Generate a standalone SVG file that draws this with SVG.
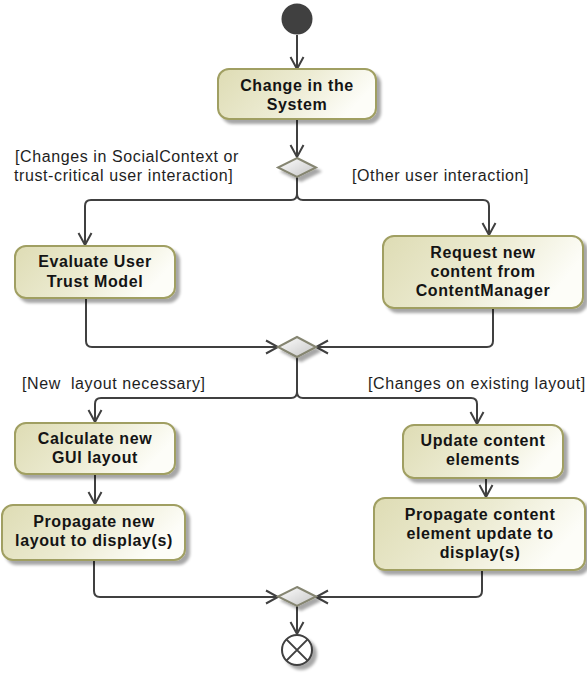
<svg xmlns="http://www.w3.org/2000/svg" width="587" height="673" viewBox="0 0 587 673">
  <style>
    .action { stroke: #a09f62; stroke-width: 2; fill: url(#actionFill); filter: url(#shadow); }
    .decision { stroke: #858571; stroke-width: 2; fill: url(#decisionFill); filter: url(#shadow); }
    .label { font-family: "Liberation Sans", Arial, sans-serif; font-size: 16px; font-weight: bold; letter-spacing: 0.6px; fill: #141414; text-anchor: middle; }
    .guard { font-family: "Liberation Sans", Arial, sans-serif; font-size: 16px; letter-spacing: 0.6px; fill: #1e1e1e; white-space: pre; }
    .flow { fill: none; stroke: #404040; stroke-width: 2; }
    .arrow { fill: none; stroke: #404040; stroke-width: 2; marker-end: url(#open); }
  </style>
  <defs>
    <linearGradient id="actionFill" x1="0" y1="0" x2="1" y2="0.3">
      <stop offset="0" stop-color="#dedcb4"/>
      <stop offset="0.55" stop-color="#ecebd2"/>
      <stop offset="1" stop-color="#fdfdf8"/>
    </linearGradient>
    <linearGradient id="decisionFill" x1="0" y1="0" x2="1" y2="1">
      <stop offset="0" stop-color="#ffffff"/>
      <stop offset="1" stop-color="#c4c4c4"/>
    </linearGradient>
    <filter id="shadow" x="-20%" y="-20%" width="150%" height="160%">
      <feGaussianBlur in="SourceAlpha" stdDeviation="1.5"/>
      <feOffset dx="4" dy="4" result="off"/>
      <feComponentTransfer><feFuncA type="linear" slope="0.35"/></feComponentTransfer>
      <feMerge><feMergeNode/><feMergeNode in="SourceGraphic"/></feMerge>
    </filter>
    <marker id="open" markerWidth="16" markerHeight="16" viewBox="-14 -8 16 16" refX="0" refY="0" orient="auto" markerUnits="userSpaceOnUse">
      <path d="M-12,-6.5 L0,0 L-12,6.5" fill="none" stroke="#404040" stroke-width="2"/>
    </marker>
  </defs>

  <!-- control flows -->
  <g id="connectors">
    <path class="arrow" d="M297,35 V69"/>
    <path class="arrow" d="M297,119 V157"/>
    <path class="arrow" d="M297,177 V194 Q297,200 291,200 H91 Q85,200 85,206 V245"/>
    <path class="arrow" d="M297,194 Q297,200 303,200 H483 Q489,200 489,206 V235"/>
    <path class="arrow" d="M86,298 V341 Q86,347 92,347 H278"/>
    <path class="arrow" d="M493,308 V341 Q493,347 487,347 H316"/>
    <path class="arrow" d="M297,357 V392 Q297,398 291,398 H101 Q95,398 95,404 V422"/>
    <path class="arrow" d="M297,392 Q297,398 303,398 H471 Q477,398 477,404 V424"/>
    <path class="arrow" d="M95,474 V504"/>
    <path class="arrow" d="M486,478 V497"/>
    <path class="arrow" d="M94,560 V591 Q94,597 100,597 H278"/>
    <path class="arrow" d="M482,570 V591 Q482,597 476,597 H316"/>
    <path class="arrow" d="M297,606 V634"/>
  </g>

  <!-- guards -->
  <g id="guards">
    <text class="guard" x="15" y="162">[Changes in SocialContext or</text>
    <text class="guard" x="14" y="181">trust-critical user interaction]</text>
    <text class="guard" x="352" y="181">[Other user interaction]</text>
    <text class="guard" x="22" y="389">[New  layout necessary]</text>
    <text class="guard" x="368" y="389">[Changes on existing layout]</text>
  </g>

  <g id="start">
    <circle cx="297" cy="19" r="15.5" fill="#404040"/>
  </g>

  <g id="change">
    <rect class="action" x="218" y="69" width="158" height="50" rx="11"/>
    <text class="label" x="297" y="91">Change in the</text>
    <text class="label" x="297" y="110">System</text>
  </g>

  <g id="decision1">
    <polygon class="decision" points="297,158 316,167.5 297,177 278,167.5"/>
  </g>

  <g id="evaluate">
    <rect class="action" x="15" y="246" width="160" height="52" rx="11"/>
    <text class="label" x="95" y="267">Evaluate User</text>
    <text class="label" x="95" y="287">Trust Model</text>
  </g>

  <g id="request">
    <rect class="action" x="383" y="236" width="200" height="72" rx="11"/>
    <text class="label" x="483" y="258">Request new</text>
    <text class="label" x="483" y="277">content from</text>
    <text class="label" x="483" y="296">ContentManager</text>
  </g>

  <g id="merge1">
    <polygon class="decision" points="297,337 316,347 297,357 278,347"/>
  </g>

  <g id="calculate">
    <rect class="action" x="15" y="423" width="160" height="51" rx="11"/>
    <text class="label" x="95" y="444">Calculate new</text>
    <text class="label" x="95" y="463">GUI layout</text>
  </g>

  <g id="update">
    <rect class="action" x="403" y="425" width="160" height="53" rx="11"/>
    <text class="label" x="483" y="446">Update content</text>
    <text class="label" x="483" y="465">elements</text>
  </g>

  <g id="propagateLayout">
    <rect class="action" x="2" y="505" width="183" height="55" rx="11"/>
    <text class="label" x="94" y="527">Propagate new</text>
    <text class="label" x="94" y="546">layout to display(s)</text>
  </g>

  <g id="propagateContent">
    <rect class="action" x="374" y="498" width="211" height="72" rx="11"/>
    <text class="label" x="480" y="520">Propagate content</text>
    <text class="label" x="480" y="539">element update to</text>
    <text class="label" x="480" y="558">display(s)</text>
  </g>

  <g id="merge2">
    <polygon class="decision" points="297,587 316,596.5 297,606 278,596.5"/>
  </g>

  <g id="end" filter="url(#shadow)">
    <circle cx="297" cy="650" r="15" fill="#ffffff" stroke="#404040" stroke-width="2"/>
    <path d="M286.4,639.4 L307.6,660.6 M307.6,639.4 L286.4,660.6" stroke="#404040" stroke-width="2"/>
  </g>
</svg>
